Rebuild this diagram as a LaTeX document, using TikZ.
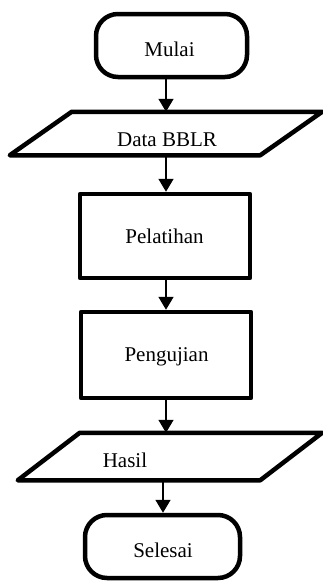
\documentclass[tikz,border=0pt]{standalone}
\usepackage{fontspec}
\setmainfont{Liberation Serif}
\usetikzlibrary{arrows.meta,calc}
\begin{document}
\begin{tikzpicture}[x=1pt,y=1pt,
  box/.style={draw, line width=4.5pt, line join=round, inner sep=0pt, outer sep=2.25pt},
  term/.style={box, rounded corners=22pt},
  frame/.style={inner sep=0pt, outer sep=2.25pt},
  outline/.style={draw, line width=4.5pt, line join=round},
  txt/.style={font=\fontsize{21}{21}\selectfont, inner sep=0pt},
  arr/.style={line width=1.8pt, -{Triangle[width=15pt,length=13pt]}}]
\useasboundingbox (0,0) rectangle (322,-581);
% shapes
\node[term, minimum width=151pt, minimum height=63pt] (m) at (171.5,-45.5) {};
\node[frame, minimum width=308pt, minimum height=39pt] (d) at (166,-133.5) {};
\draw[outline] (d.south west) -- ($(d.north west)+(62,0)$) -- (d.north east) -- ($(d.south east)+(-62,0)$) -- cycle;
\node[box, minimum width=170pt, minimum height=84pt] (p) at (165,-236) {};
\node[box, minimum width=170pt, minimum height=86pt] (u) at (166,-355) {};
\node[frame, minimum width=300pt, minimum height=43pt] (h) at (170,-456.5) {};
\draw[outline] (h.south west) -- ($(h.north west)+(62,0)$) -- (h.north east) -- ($(h.south east)+(-62,0)$) -- cycle;
\node[term, minimum width=155pt, minimum height=63pt] (s) at (162.5,-546.5) {};
% texts
\node[txt] (tm) at (169.5,-49.5) {Mulai};
\node[txt] (td) at (167,-139.5) {Data BBLR};
\node[txt] (tp) at (164.5,-236.5) {Pelatihan};
\node[txt] (tu) at (166.5,-356.5) {Pengujian};
\node[txt] (th) at (125,-460) {Hasil};
\node[txt] (ts) at (163,-550) {Selesai};
% connectors
\coordinate (c1) at (166,0);
\coordinate (c2) at (163,0);
\draw[arr] (m.south -| c1) -- (d.north -| c1);
\draw[arr] (d.south -| c1) -- (p.north -| c1);
\draw[arr] (p.south -| c1) -- (u.north -| c1);
\draw[arr] (u.south -| c1) -- (h.north -| c1);
\draw[arr] (h.south -| c2) -- (s.north -| c2);
\end{tikzpicture}
\end{document}
